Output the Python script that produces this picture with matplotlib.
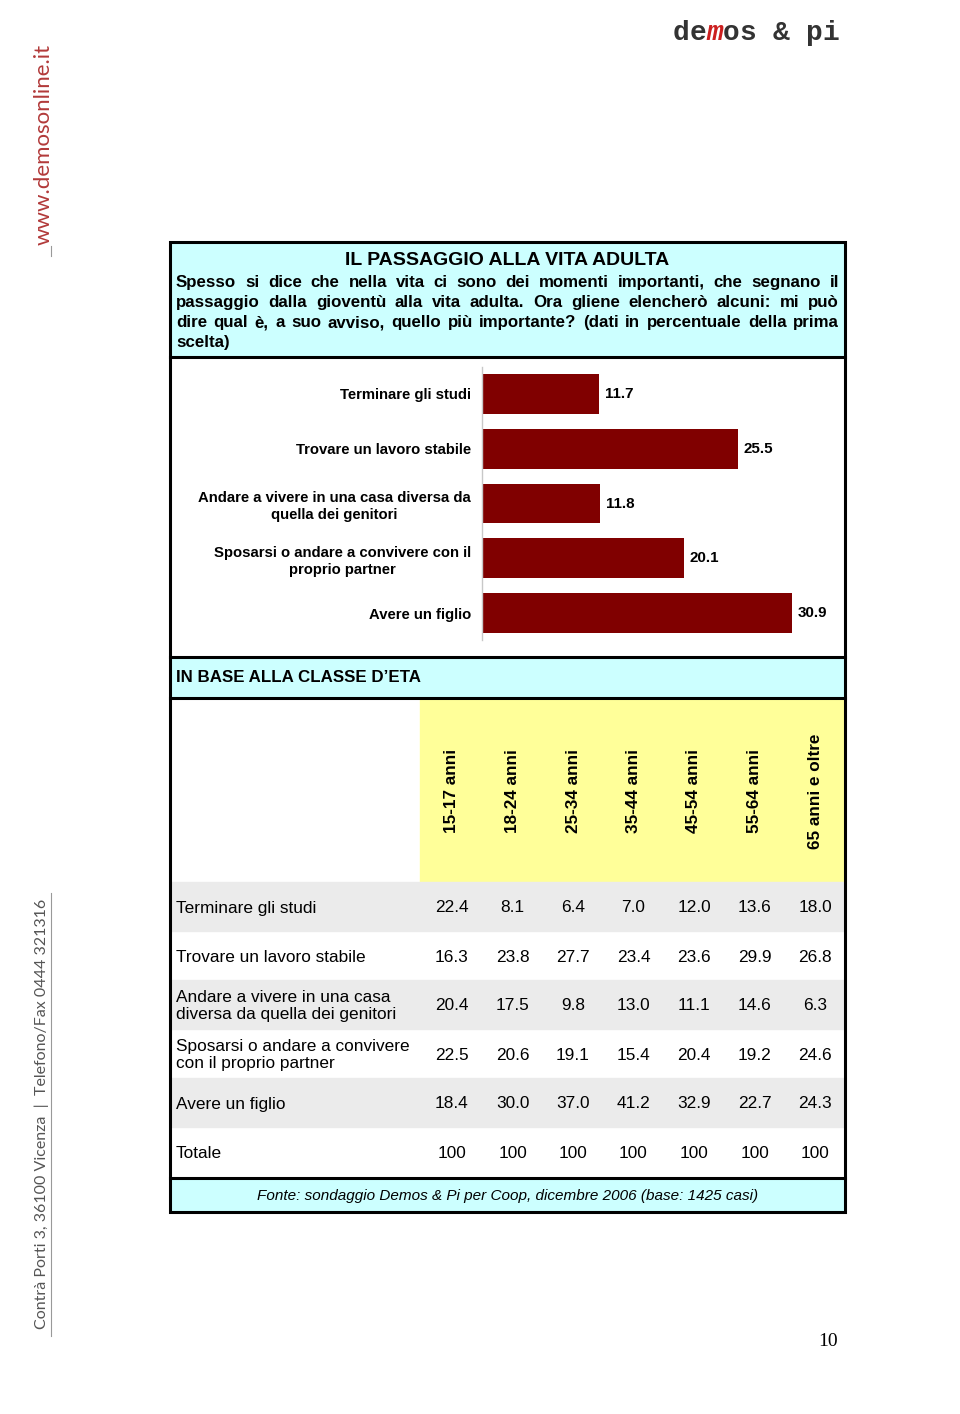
import matplotlib.pyplot as plt
from matplotlib.patches import Rectangle

plt.rcParams['font.family'] = ['Liberation Sans', 'DejaVu Sans']

# Dati: prima scelta sul totale del campione
risposte = ['Terminare gli studi', 'Trovare un lavoro stabile',
            'Andare a vivere in una casa diversa da\nquella dei genitori',
            'Sposarsi o andare a convivere con il\nproprio partner',
            'Avere un figlio']
totale = [11.7, 25.5, 11.8, 20.1, 30.9]

# Dati per classe d'eta
classi = ['15-17 anni', '18-24 anni', '25-34 anni', '35-44 anni',
          '45-54 anni', '55-64 anni', '65 anni e oltre']
righe = ['Terminare gli studi', 'Trovare un lavoro stabile',
         'Andare a vivere in una casa\ndiversa da quella dei genitori',
         'Sposarsi o andare a convivere\ncon il proprio partner',
         'Avere un figlio', 'Totale']
terminare = [22.4, 8.1, 6.4, 7.0, 12.0, 13.6, 18.0]
trovare = [16.3, 23.8, 27.7, 23.4, 23.6, 29.9, 26.8]
andare = [20.4, 17.5, 9.8, 13.0, 11.1, 14.6, 6.3]
sposarsi = [22.5, 20.6, 19.1, 15.4, 20.4, 19.2, 24.6]
figlio = [18.4, 30.0, 37.0, 41.2, 32.9, 22.7, 24.3]
tot_classi = [100, 100, 100, 100, 100, 100, 100]

titolo = 'IL PASSAGGIO ALLA VITA ADULTA'
domanda = ['Spesso si dice che nella vita ci sono dei momenti importanti, che segnano il',
           'passaggio dalla gioventù alla vita adulta. Ora gliene elencherò alcuni: mi può',
           'dire qual è, a suo avviso, quello più importante? (dati in percentuale della prima',
           'scelta)']
sottotitolo = 'IN BASE ALLA CLASSE D\u2019ETA'
fonte = 'Fonte: sondaggio Demos & Pi per Coop, dicembre 2006 (base: 1425 casi)'

CIANO = '#ccffff'
GIALLO = '#ffff99'
GRIGIO = '#ebebeb'
BORDEAUX = '#800000'

W, H = 960, 1414
fig = plt.figure(figsize=(W / 100, H / 100), dpi=100)
ax = fig.add_axes([0, 0, 1, 1])
ax.set_xlim(0, W)
ax.set_ylim(H, 0)
ax.axis('off')

# Sfondi dei riquadri
x0, x1 = 170, 845
ax.add_patch(Rectangle((x0, 242), x1 - x0, 115, color=CIANO, zorder=0))
ax.add_patch(Rectangle((x0, 657), x1 - x0, 41, color=CIANO, zorder=0))
ax.add_patch(Rectangle((420, 698), x1 - 420, 184, color=GIALLO, zorder=0))
ax.add_patch(Rectangle((x0, 1178), x1 - x0, 34, color=CIANO, zorder=0))
for i in range(len(righe)):
    if i % 2 == 0:
        ax.add_patch(Rectangle((x0, 882 + i * 49), x1 - x0, 49, color=GRIGIO, zorder=0))

# Bordi
ax.add_patch(Rectangle((x0, 242), x1 - x0, 1212 - 242, fill=False, ec='black', lw=2.2, zorder=3))
for y in [357, 657, 698, 1178]:
    ax.plot([x0, x1], [y, y], color='black', lw=2.2, zorder=3)

# Intestazione
ax.text(507, 260.5, titolo, ha='center', va='center', fontsize=14, fontweight='bold')
r = fig.canvas.get_renderer()


def giustifica(riga, xa, xb, y, **kw):
    parole = riga.split()
    testi = [ax.text(xa, y, p, va='baseline', **kw) for p in parole]
    larg = [t.get_window_extent(r).width for t in testi]
    spazio = (xb - xa - sum(larg)) / (len(parole) - 1)
    x = xa
    for t, w in zip(testi, larg):
        t.set_x(x)
        x += w + spazio


for k, riga in enumerate(domanda):
    y = 287 + k * 20
    if k < len(domanda) - 1:
        giustifica(riga, 176, 839, y, fontsize=12.2, fontweight='bold')
    else:
        ax.text(176, y, riga, va='baseline', fontsize=12.2, fontweight='bold')

ax.text(176, 678, sottotitolo, va='center', fontsize=12.2, fontweight='bold')
ax.text(508, 1196, fonte, ha='center', va='center', fontsize=11, style='italic')

# Grafico a barre
bx = fig.add_axes([482 / W, 1 - 640.4 / H, (x1 - 482) / W, (640.4 - 366.6) / H], zorder=5)
bx.patch.set_alpha(0)
pos = list(range(len(risposte)))
bx.barh(pos, totale, height=0.73, color=BORDEAUX)
bx.set_xlim(0, 36.2)
bx.set_ylim(4.5, -0.5)
for s in ['top', 'right', 'bottom']:
    bx.spines[s].set_visible(False)
bx.spines['left'].set_color('#c8c8c8')
bx.spines['left'].set_linewidth(1)
bx.set_xticks([])
bx.set_yticks(pos)
bx.set_yticklabels(risposte, fontsize=10.7, fontweight='bold', linespacing=1.3)
for lbl in bx.get_yticklabels():
    lbl.set_multialignment('center')
bx.tick_params(axis='y', length=0, pad=8)
for p, v in zip(pos, totale):
    bx.text(v + 0.55, p, f'{v:.1f}', va='center', ha='left', fontsize=10.9, fontweight='bold')

# Tabella per classe d'eta
valori = [terminare, trovare, andare, sposarsi, figlio, tot_classi]
for j, c in enumerate(classi):
    ax.text(452 + j * 60.5, 791, c, rotation=90, ha='center', va='center',
            fontsize=12.3, fontweight='bold')
for i, (nome, serie) in enumerate(zip(righe, valori)):
    yc = 882 + i * 49 + 26
    ax.text(176, yc, nome, va='center', fontsize=12.4, linespacing=1.2)
    for j, v in enumerate(serie):
        testo = str(v) if nome == 'Totale' else f'{v:.1f}'
        ax.text(452 + j * 60.5, yc, testo, ha='center', va='center', fontsize=12.4)

# Elementi della pagina
ax.text(44, 144, 'www.demosonline.it', rotation=90, ha='center', va='center',
        fontsize=16, color='#b23a3a', family=['Lato', 'DejaVu Sans'])
ax.plot([51, 51], [246, 256], color='#999999', lw=0.8)
ax.text(42, 1114, 'Contrà Porti 3, 36100 Vicenza  |  Telefono/Fax 0444 321316', rotation=90,
        ha='center', va='center', fontsize=11.5, color='#555555', family=['Lato', 'DejaVu Sans'])
ax.plot([51, 51], [893, 1336], color='#999999', lw=0.8)

logo = 'demos & pi'
for k, ch in enumerate(logo):
    if not ch.strip():
        continue
    rosso = k == 2
    ax.text(673 + k * 16.6, 33, ch, ha='left', va='center', fontsize=20, fontweight='bold',
            style='italic' if rosso else 'normal',
            family=['Liberation Mono', 'DejaVu Sans Mono'],
            color='#cc1f1f' if rosso else '#333333')

ax.text(838, 1341, '10', ha='right', va='center', fontsize=14,
        family=['Liberation Serif', 'DejaVu Serif'])

fig.savefig('out.png', dpi=100)
